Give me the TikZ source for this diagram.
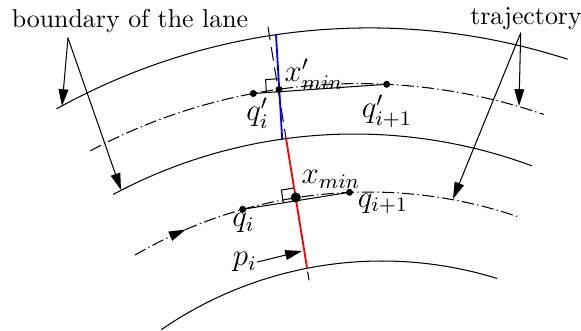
\documentclass[tikz,border=0pt]{standalone}
\usetikzlibrary{arrows.meta}
\tikzset{trajline/.style={dash pattern=on 4.5pt off 1.5pt on 0.3pt off 1.5pt},
	mathlabel/.style={inner sep=0, font=\fontsize{11.5}{13}\selectfont}}
\begin{document}
\begin{tikzpicture}[x=0.0136cm, y=-0.0136cm, line join=round, line cap=round, >={Triangle[length=6.5pt,width=3.8pt]}]
		\useasboundingbox (0,0) rectangle (581,331);
		% lane boundaries and trajectories
		\draw[samples=60,domain=-119:-72.1,smooth,variable=\t] plot ({369.2+644.6*cos(\t)},{672.5+644.6*sin(\t)});
		\draw[samples=60,domain=-118.1:-69.7,smooth,variable=\t] plot ({354.3+511.6*cos(\t)},{645.6+511.6*sin(\t)});
		\draw[samples=60,domain=-124.5:-72.8,smooth,variable=\t] plot ({381.9+388.9*cos(\t)},{649.9+388.9*sin(\t)});
		\draw[trajline,samples=60,domain=-118.1:-71.1,smooth,variable=\t] plot ({358.8+569.9*cos(\t)},{653.5+569.9*sin(\t)});
		\draw[trajline,->,samples=10,domain=-120.2:-113.2,smooth,variable=\t] plot ({368.6+464.3*cos(\t)},{656.3+464.3*sin(\t)});
		\draw[trajline,samples=60,domain=-113.2:-71,smooth,variable=\t] plot ({368.6+464.3*cos(\t)},{656.3+464.3*sin(\t)});
		% points
		\coordinate (qa) at (253.3,93.5);
		\coordinate (qb) at (386.7,84.3);
		\coordinate (xa) at (279,89.5);
		\coordinate (fa) at (279.4,91.7);
		\coordinate (na) at (276,34.7);
		\coordinate (nb) at (282.2,139);
		\coordinate (qc) at (242.7,209.3);
		\coordinate (qd) at (349.5,192.3);
		\coordinate (xb) at (295.8,197.5);
		\coordinate (fb) at (296.2,200.8);
		\coordinate (nc) at (268,27);
		\coordinate (nd) at (286.1,138.6);
		\coordinate (ne) at (307.1,268.2);
		\coordinate (nf) at (309,280);
		% normals
		\draw[dash pattern=on 5pt off 3pt] (nc)--(nf);
		\draw (qa)--(qb) (qc)--(qd);
		\draw (266.4,92.6)--(265.6,79.6)--(278.6,78.7) (283.4,202.9)--(281.3,190.1)--(294.1,188);
		\draw[blue,line width=0.7pt] (na)--(nb);
		\draw[red,line width=0.7pt] (nd)--(ne);
		\fill (qa) circle(1.35pt) (qb) circle(1.35pt) (xa) circle(1.35pt) (qc) circle(1.35pt) (qd) circle(1.35pt) (xb) circle(1.95pt);
		% labels
		\node[mathlabel] (lqa) at (257.5,113) {$q'_i$};
		\node[mathlabel] (lqb) at (387,111) {$q'_{i+1}$};
		\node[mathlabel] (lxa) at (314,74) {$x'_{min}$};
		\node[mathlabel] (lqc) at (243.5,223) {$q_i$};
		\node[mathlabel] (lqd) at (383,204) {$q_{i+1}$};
		\node[mathlabel] (lxb) at (331,179) {$x_{min}$};
		\node[mathlabel] (lp) at (245,262) {$p_i$};
		\node (lane) at (130,21) {boundary of the lane};
		\node (traj) at (526,19) {trajectory};
		\coordinate (lanefoot) at (68,38);
		\coordinate (lanetop) at (62,106);
		\coordinate (lanemid) at (121,190);
		\coordinate (trajfoot) at (520.7,33);
		\coordinate (trajtop) at (519,106);
		\coordinate (trajlow) at (453,199);
		\coordinate (pfoot) at (302,251);
		\draw[->] (lanefoot)--(lanetop);
		\draw[->] (lanefoot)--(lanemid);
		\draw[->] (trajfoot)--(trajtop);
		\draw[->] (trajfoot)--(trajlow);
		\draw[->] (lp.east)--(pfoot);
		\end{tikzpicture}
\end{document}
